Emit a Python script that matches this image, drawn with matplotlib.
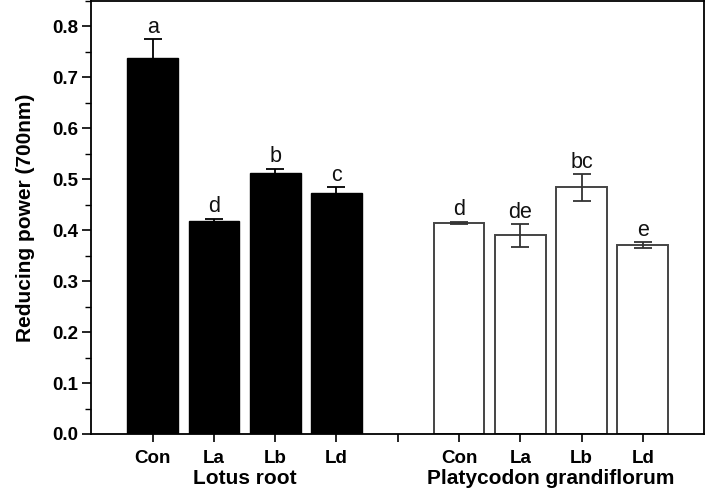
import matplotlib
matplotlib.use("Agg")
import matplotlib.pyplot as plt
from matplotlib.ticker import MultipleLocator

plt.rcParams['font.family'] = ['Liberation Sans', 'DejaVu Sans']

# data
treatments = ['Con', 'La', 'Lb', 'Ld']
groups = ['Lotus root', 'Platycodon grandiflorum']
lotus_vals = [0.738, 0.418, 0.513, 0.473]
lotus_err = [0.037, 0.005, 0.008, 0.012]
lotus_letters = ['a', 'd', 'b', 'c']
platy_vals = [0.415, 0.390, 0.484, 0.371]
platy_err = [0.002, 0.022, 0.026, 0.006]
platy_letters = ['d', 'de', 'bc', 'e']

lotus_x = [1, 2, 3, 4]
platy_x = [6, 7, 8, 9]

fig = plt.figure(figsize=(7.07, 4.96), dpi=100)
ax = fig.add_axes([0.1293, 0.125, 0.8665, 0.873])

w = 0.83
ax.bar(lotus_x, lotus_vals, width=w, color='black', edgecolor='black', linewidth=1.0, zorder=2)
ax.errorbar(lotus_x, lotus_vals, yerr=lotus_err, fmt='none', ecolor='black',
            elinewidth=1.3, capsize=6.5, capthick=1.3, zorder=3)
ax.bar(platy_x, platy_vals, width=w, color='white', edgecolor='#444444', linewidth=1.4, zorder=2)
ax.errorbar(platy_x, platy_vals, yerr=platy_err, fmt='none', ecolor='#333333',
            elinewidth=1.3, capsize=6.5, capthick=1.3, zorder=3)

for x, v, e, t in zip(lotus_x + platy_x, lotus_vals + platy_vals,
                      lotus_err + platy_err, lotus_letters + platy_letters):
    ax.text(x, v + e + 0.012, t, ha='center', va='baseline', fontsize=15.5, color='#111111')

ax.set_xlim(0, 10)
ax.set_ylim(0, 0.85)
ax.set_xticks([1, 2, 3, 4, 5, 6, 7, 8, 9])
ax.set_xticklabels(treatments + [''] + treatments, fontsize=13.5, fontweight='bold')
ax.yaxis.set_minor_locator(MultipleLocator(0.05))
ax.set_yticks([0, 0.1, 0.2, 0.3, 0.4, 0.5, 0.6, 0.7, 0.8])
ax.set_yticklabels(['0.0', '0.1', '0.2', '0.3', '0.4', '0.5', '0.6', '0.7', '0.8'],
                   fontsize=13.5, fontweight='bold')
ax.tick_params(axis='both', which='major', direction='out', length=6.5, width=1.2, pad=3)
ax.tick_params(axis='y', which='minor', direction='out', length=4, width=1.0)
ax.tick_params(axis='x', which='major', length=5.5, pad=6)
for s in ax.spines.values():
    s.set_linewidth(1.3)

ax.set_ylabel('Reducing power (700nm)', fontsize=15, fontweight='bold', labelpad=12)

ax.text(2.5, -0.069, groups[0], ha='center', va='top',
        fontsize=15, fontweight='bold', clip_on=False)
ax.text(7.5, -0.069, groups[1], ha='center', va='top',
        fontsize=15, fontweight='bold', clip_on=False)

fig.savefig('out.png', dpi=100)
